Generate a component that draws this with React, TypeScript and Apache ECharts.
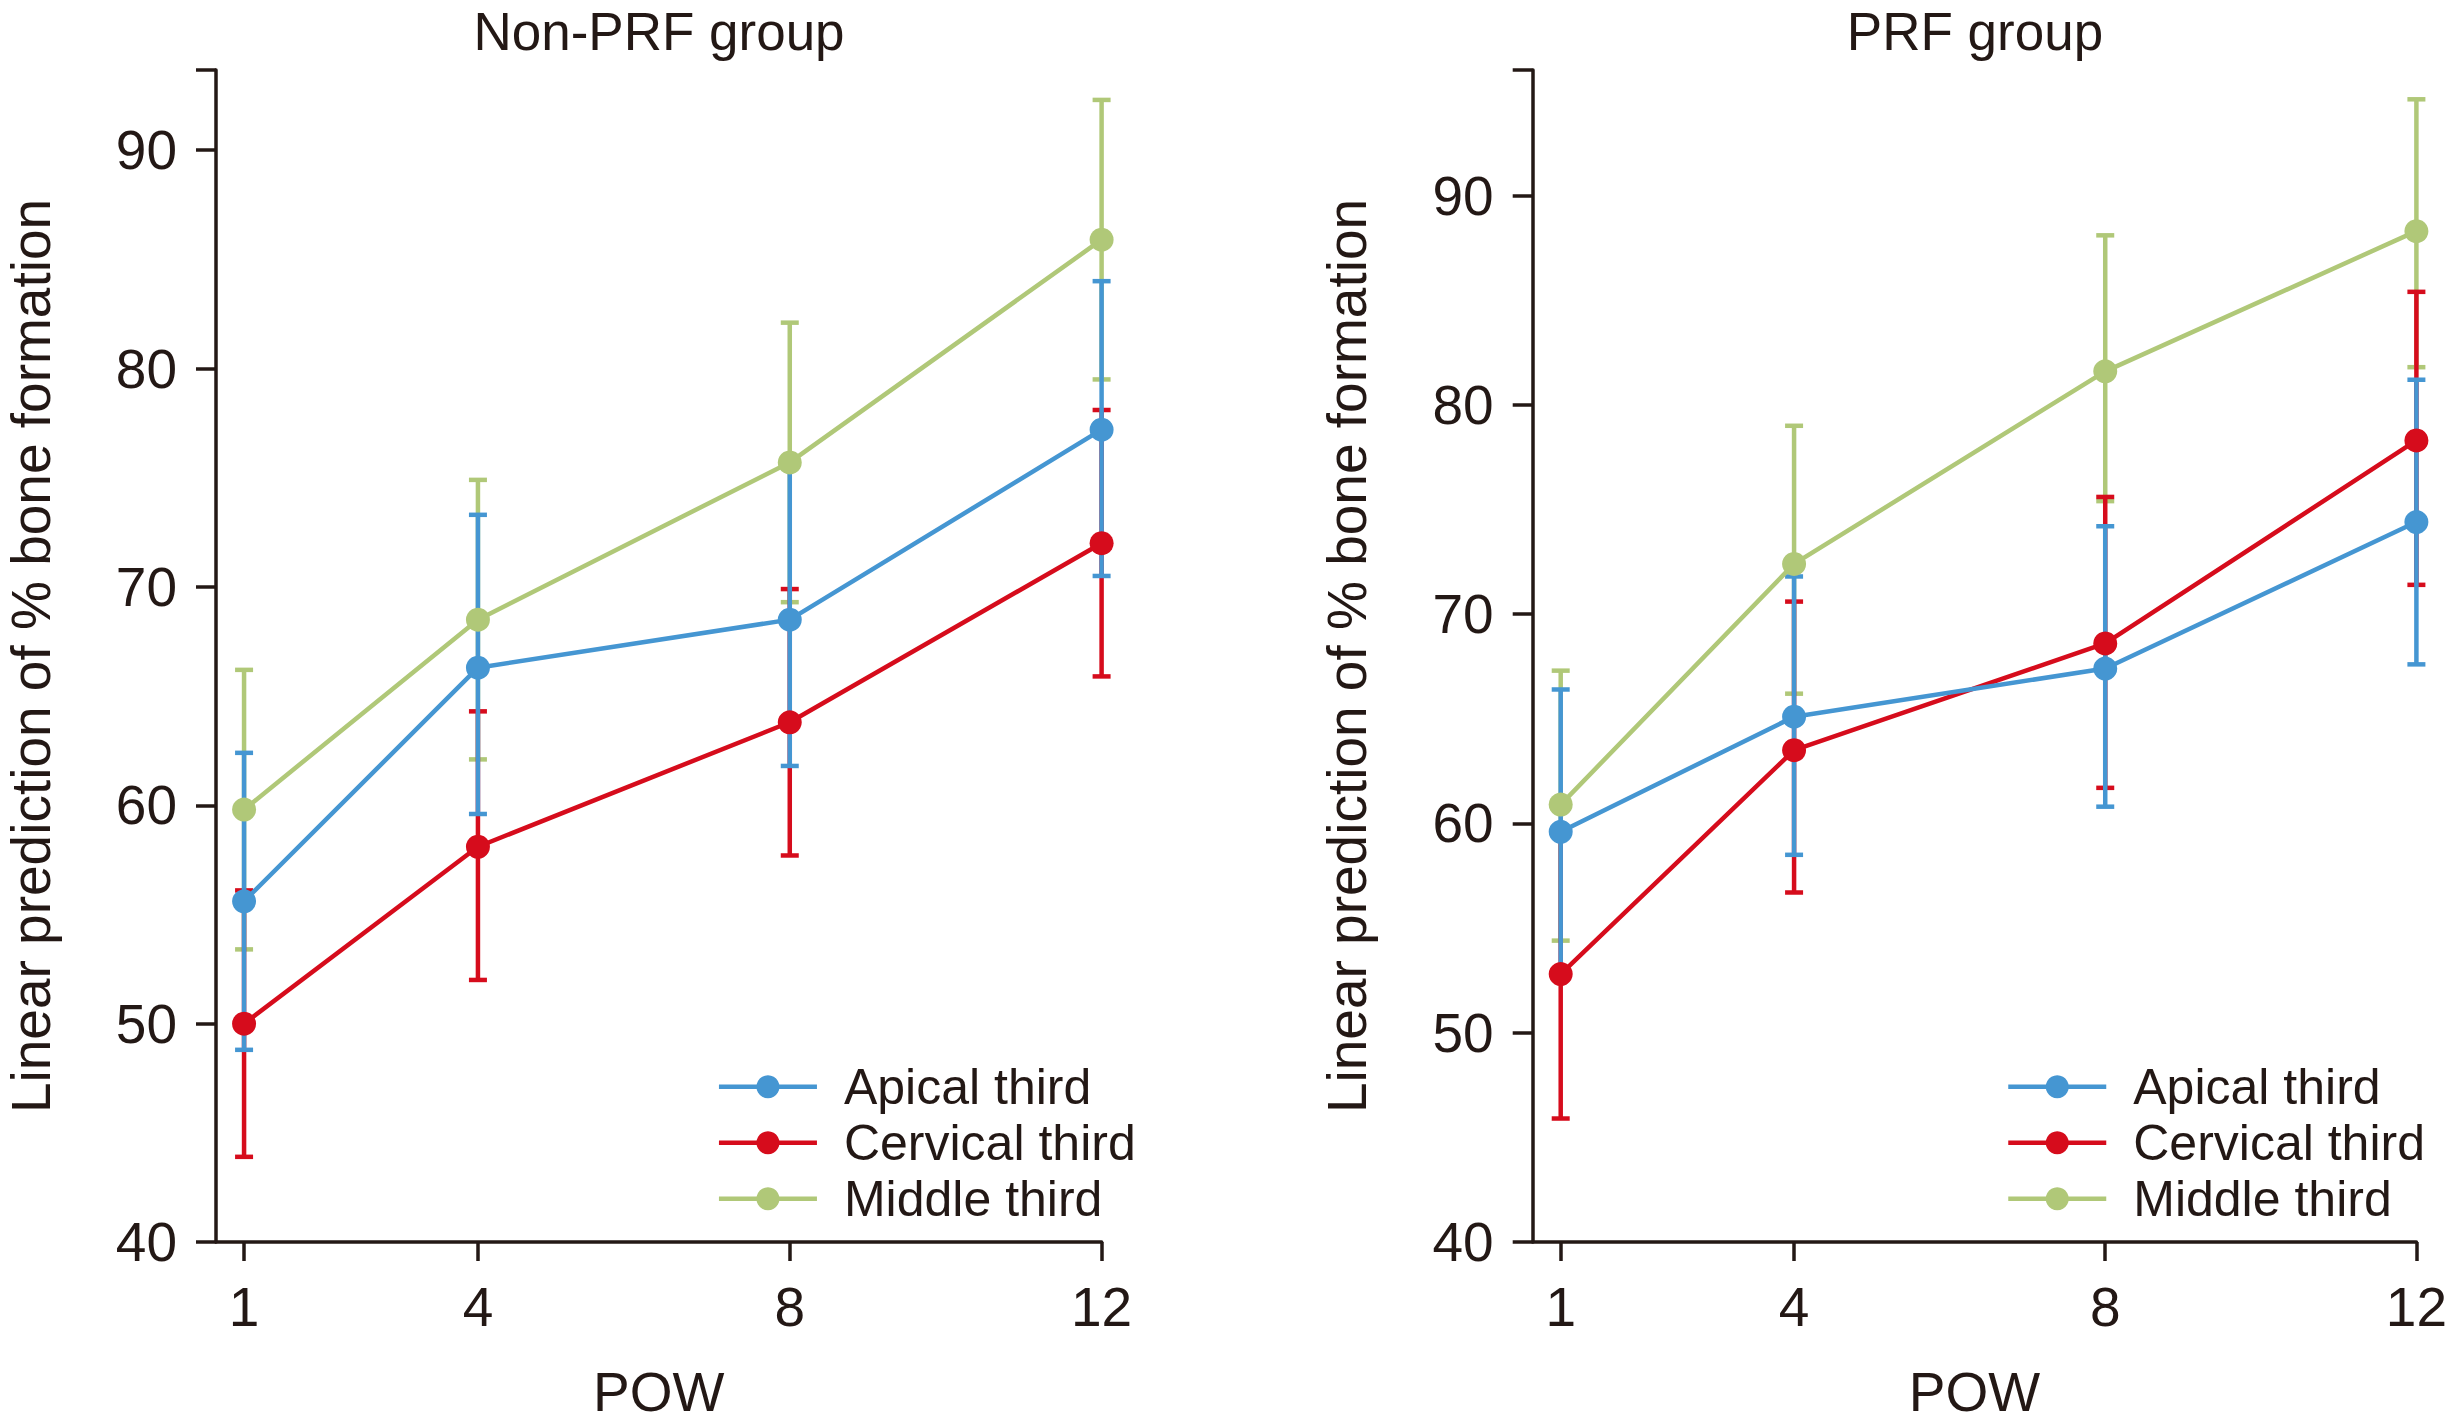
import React, { useEffect, useRef } from "react";
import * as echarts from "echarts";

// ---- data ----
const weeks = [1, 4, 8, 12];
const yTicks = [40, 50, 60, 70, 80, 90];
const seriesNames = ["Apical third", "Cervical third", "Middle third"];

// Non-PRF group
const nonPrfApical = [55.6, 66.3, 68.5, 77.2];
const nonPrfApicalLo = [48.8, 59.6, 61.8, 70.5];
const nonPrfApicalHi = [62.4, 73.3, 75.5, 84.0];
const nonPrfCervical = [50.0, 58.1, 63.8, 72.0];
const nonPrfCervicalLo = [43.9, 52.0, 57.7, 65.9];
const nonPrfCervicalHi = [56.1, 64.3, 69.9, 78.1];
const nonPrfMiddle = [59.8, 68.5, 75.7, 85.9];
const nonPrfMiddleLo = [53.4, 62.1, 69.3, 79.5];
const nonPrfMiddleHi = [66.2, 74.9, 82.1, 92.3];

// PRF group
const prfApical = [59.6, 65.1, 67.4, 74.4];
const prfApicalLo = [52.8, 58.5, 60.8, 67.6];
const prfApicalHi = [66.4, 71.8, 74.2, 81.2];
const prfCervical = [52.8, 63.5, 68.6, 78.3];
const prfCervicalLo = [45.9, 56.7, 61.7, 71.4];
const prfCervicalHi = [59.7, 70.6, 75.6, 85.4];
const prfMiddle = [60.9, 72.4, 81.6, 88.3];
const prfMiddleLo = [54.4, 66.2, 75.4, 81.8];
const prfMiddleHi = [67.3, 79.0, 88.1, 94.6];

const xMin = 0.64;
const xMax = 12;
const yMin = 40;
const leftYMax = 93.67;
const rightYMax = 96.0;

const COLORS = ["#4596D2", "#D60C1C", "#B0C878"];
const INK = "#231815";
const FONT = "'Liberation Sans', Arial, Helvetica, sans-serif";
const LINE_W = 4.5;

function App() {
  const ref = useRef<HTMLDivElement | null>(null);

  useEffect(() => {
    document.body.style.margin = "0";
    document.body.style.overflow = "hidden";
    if (!ref.current) return;
    const chart = echarts.init(ref.current, undefined, { renderer: "svg" });

    const groups = [
      {
        means: [nonPrfApical, nonPrfCervical, nonPrfMiddle],
        lows: [nonPrfApicalLo, nonPrfCervicalLo, nonPrfMiddleLo],
        highs: [nonPrfApicalHi, nonPrfCervicalHi, nonPrfMiddleHi],
      },
      {
        means: [prfApical, prfCervical, prfMiddle],
        lows: [prfApicalLo, prfCervicalLo, prfMiddleLo],
        highs: [prfApicalHi, prfCervicalHi, prfMiddleHi],
      },
    ];

    const series: any[] = [];
    groups.forEach((g, gi) => {
      // error bars: green, red, blue order (blue on top)
      [2, 1, 0].forEach((si) => {
        const color = COLORS[si];
        series.push({
          type: "custom",
          name: seriesNames[si] + " CI " + gi,
          xAxisIndex: gi,
          yAxisIndex: gi,
          z: 2,
          silent: true,
          data: weeks.map((w, i) => [w, g.lows[si][i], g.highs[si][i]]),
          renderItem: (params: any, api: any) => {
            const x = api.value(0);
            const pLo = api.coord([x, api.value(1)]);
            const pHi = api.coord([x, api.value(2)]);
            const hw = 9;
            const style = { stroke: color, lineWidth: LINE_W };
            return {
              type: "group",
              children: [
                { type: "line", shape: { x1: pLo[0], y1: pLo[1], x2: pHi[0], y2: pHi[1] }, style },
                { type: "line", shape: { x1: pLo[0] - hw, y1: pLo[1], x2: pLo[0] + hw, y2: pLo[1] }, style },
                { type: "line", shape: { x1: pHi[0] - hw, y1: pHi[1], x2: pHi[0] + hw, y2: pHi[1] }, style },
              ],
            };
          },
        });
      });
      [2, 1, 0].forEach((si) => {
        series.push({
          type: "line",
          name: seriesNames[si],
          xAxisIndex: gi,
          yAxisIndex: gi,
          z: 3,
          symbol: "circle",
          symbolSize: 24,
          showSymbol: true,
          lineStyle: { color: COLORS[si], width: LINE_W },
          itemStyle: { color: COLORS[si] },
          data: weeks.map((w, i) => [w, g.means[si][i]]),
        });
      });
    });

    const makeX = (gi: number) => ({
      type: "value",
      gridIndex: gi,
      min: xMin,
      max: xMax,
      name: "POW",
      nameLocation: "middle",
      nameGap: 122,
      nameTextStyle: { fontSize: 55, color: INK, fontFamily: FONT },
      axisLine: { show: true, lineStyle: { color: INK, width: 3.5 } },
      axisTick: { show: true, length: 19, lineStyle: { color: INK, width: 3.5 }, customValues: weeks },
      axisLabel: { show: true, customValues: weeks, fontSize: 55, color: INK, margin: 37, fontFamily: FONT },
      splitLine: { show: false },
    });

    const makeY = (gi: number, max: number) => ({
      type: "value",
      gridIndex: gi,
      min: yMin,
      max: max,
      name: "Linear prediction of % bone formation",
      nameLocation: "middle",
      nameGap: 158,
      nameTextStyle: { fontSize: 55, color: INK, fontFamily: FONT },
      axisLine: { show: true, lineStyle: { color: INK, width: 3.5 } },
      axisTick: { show: true, length: 20, lineStyle: { color: INK, width: 3.5 }, customValues: [...yTicks, max] },
      axisLabel: { show: true, customValues: yTicks, fontSize: 55, color: INK, margin: 39, fontFamily: FONT },
      splitLine: { show: false },
    });

    const makeLegend = (left: number) => ({
      data: seriesNames,
      orient: "vertical",
      left: left,
      top: 1061.7,
      padding: 0,
      itemWidth: 98,
      itemHeight: 28.75,
      itemGap: 6,
      selectedMode: false,
      lineStyle: { width: LINE_W },
      textStyle: { fontSize: 50, color: INK, fontFamily: FONT, lineHeight: 50, padding: [0, 0, 0, 22] },
    });

    chart.setOption({
      animation: false,
      backgroundColor: "#ffffff",
      textStyle: { fontFamily: FONT },
      grid: [
        { left: 216, right: 1349.4, top: 70, bottom: 171.3, containLabel: false },
        { left: 1532.7, right: 34.6, top: 70, bottom: 171.3, containLabel: false },
      ],
      xAxis: [makeX(0), makeX(1)],
      yAxis: [makeY(0, leftYMax), makeY(1, rightYMax)],
      legend: [makeLegend(716.7), makeLegend(2006)],
      graphic: [
        {
          type: "text",
          x: 659,
          y: 5,
          style: { text: "Non-PRF group", fontSize: 53, fontFamily: FONT, fill: INK, align: "center", verticalAlign: "top" },
        },
        {
          type: "text",
          x: 1975,
          y: 5,
          style: { text: "PRF group", fontSize: 53, fontFamily: FONT, fill: INK, align: "center", verticalAlign: "top" },
        },
      ],
      series,
    });

    return () => {
      chart.dispose();
    };
  }, []);

  return <div ref={ref} style={{ width: 2451, height: 1424 }} />;
}

export default App;
